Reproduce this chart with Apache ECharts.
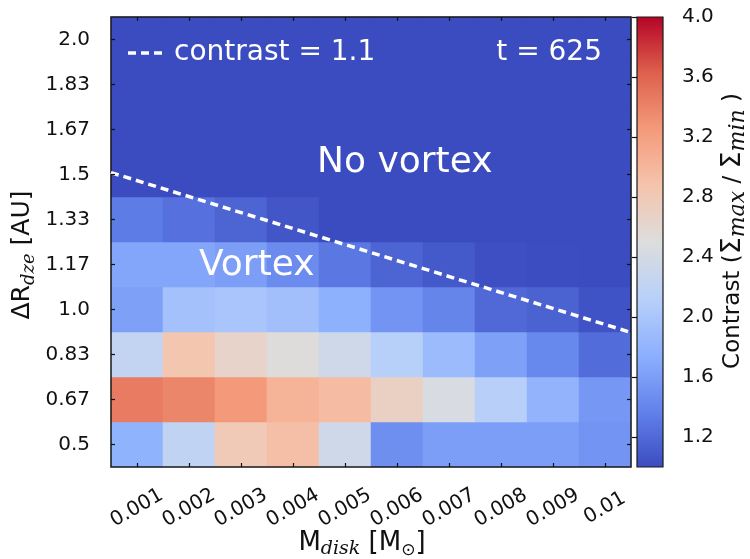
<!DOCTYPE html>
<html>
<head>
<meta charset="utf-8">
<script src="https://cdn.jsdelivr.net/npm/echarts@6/dist/echarts.min.js"></script>
<style>
html,body{margin:0;padding:0;background:#fff;}
#chart{width:750px;height:559px;}
</style>
</head>
<body>
<div id="chart"></div>
<script>
// Disk mass categories (x) and dead-zone-edge width categories (y)
var massLabels = ['0.001','0.002','0.003','0.004','0.005','0.006','0.007','0.008','0.009','0.01'];
var widthLabels = ['0.5','0.67','0.83','1.0','1.17','1.33','1.5','1.67','1.83','2.0'];

// Contrast values, one array per ΔR row (bottom to top), one value per M_disk column
var row_0_5  = [1.78, 2.22, 2.80, 2.92, 2.35, 1.48, 1.60, 1.60, 1.60, 1.52];
var row_0_67 = [3.45, 3.38, 3.25, 3.03, 2.95, 2.70, 2.45, 2.13, 1.80, 1.55];
var row_0_83 = [2.23, 2.85, 2.65, 2.52, 2.35, 2.12, 1.88, 1.62, 1.42, 1.22];
var row_1_0  = [1.62, 1.95, 2.00, 1.93, 1.76, 1.52, 1.40, 1.20, 1.15, 1.05];
var row_1_17 = [1.67, 1.67, 1.60, 1.45, 1.30, 1.17, 1.09, 1.02, 1.01, 1.00];
var row_1_33 = [1.33, 1.26, 1.17, 1.07, 1.00, 1.00, 1.00, 1.00, 1.00, 1.00];
var row_1_5  = [1.00, 1.00, 1.00, 1.00, 1.00, 1.00, 1.00, 1.00, 1.00, 1.00];
var row_1_67 = [1.00, 1.00, 1.00, 1.00, 1.00, 1.00, 1.00, 1.00, 1.00, 1.00];
var row_1_83 = [1.00, 1.00, 1.00, 1.00, 1.00, 1.00, 1.00, 1.00, 1.00, 1.00];
var row_2_0  = [1.00, 1.00, 1.00, 1.00, 1.00, 1.00, 1.00, 1.00, 1.00, 1.00];

// contrast = 1.1 boundary (M_disk, ΔR), read at the plot edges
var contourMass  = [0.0005, 0.0105];
var contourWidth = [1.507, 0.915];

// Colour bar ticks
var cbarTicks = [1.2, 1.6, 2.0, 2.4, 2.8, 3.2, 3.6, 4.0];
var cbarMin = 1.0, cbarMax = 4.0;

var coolwarm = ['#3b4cc0','#6282ea','#8db0fe','#b8d0f9','#dddddd','#f5c4ad','#f49a7b','#de604d','#b40426'];

var rows = [row_0_5,row_0_67,row_0_83,row_1_0,row_1_17,row_1_33,row_1_5,row_1_67,row_1_83,row_2_0];
var heatData = [];
rows.forEach(function(r, yi){ r.forEach(function(v, xi){ heatData.push([xi, yi, v]); }); });
var lineData = contourMass.map(function(m, i){ return [m, contourWidth[i]]; });

var FONT = 'DejaVu Sans';
var chart = echarts.init(document.getElementById('chart'), null, {renderer:'canvas'});

var cbStops = coolwarm.map(function(c, i){ return {offset: i/(coolwarm.length-1), color: c}; });
var tickStyle = {color:'#111', width:1.2};

var option = {
  backgroundColor: '#ffffff',
  animation: false,
  grid: [
    {left:111, top:17, width:520, height:450, show:true, borderColor:'#1a1a1a', borderWidth:1.5, backgroundColor:'transparent', z:3},
    {left:637, top:17, width:26, height:450, show:true, borderColor:'#1a1a1a', borderWidth:1.2,
     backgroundColor:{type:'linear', x:0, y:1, x2:0, y2:0, colorStops: cbStops}}
  ],
  visualMap: {type:'continuous', min:cbarMin, max:cbarMax, show:false, seriesIndex:0, inRange:{color:coolwarm}},
  xAxis: [
    {type:'category', gridIndex:0, data:massLabels, position:'bottom', z:10,
     axisLine:{show:false}, splitLine:{show:false},
     axisTick:{show:true, alignWithLabel:true, inside:true, length:4, interval:0, lineStyle:tickStyle},
     axisLabel:{interval:0, rotate:30, align:'center', verticalAlign:'middle', margin:41, fontFamily:FONT, fontSize:20, color:'#111'}},
    {type:'value', gridIndex:0, min:0.0005, max:0.0105, show:false},
    {type:'category', gridIndex:0, data:massLabels, position:'top', z:10,
     axisLine:{show:false}, splitLine:{show:false}, axisLabel:{show:false},
     axisTick:{show:true, alignWithLabel:true, inside:true, length:4, interval:0, lineStyle:tickStyle}},
    {type:'value', gridIndex:1, show:false, min:0, max:1}
  ],
  yAxis: [
    {type:'category', gridIndex:0, data:widthLabels, position:'left', z:10,
     axisLine:{show:false}, splitLine:{show:false},
     axisTick:{show:true, alignWithLabel:true, inside:true, length:4, interval:0, lineStyle:tickStyle},
     axisLabel:{interval:0, margin:21, fontFamily:FONT, fontSize:20, color:'#111'}},
    {type:'value', gridIndex:0, min:0.41667, max:2.08333, show:false},
    {type:'category', gridIndex:0, data:widthLabels, position:'right', z:10,
     axisLine:{show:false}, splitLine:{show:false}, axisLabel:{show:false},
     axisTick:{show:true, alignWithLabel:true, inside:true, length:4, interval:0, lineStyle:tickStyle}},
    {type:'value', gridIndex:1, position:'right', min:cbarMin, max:cbarMax, z:10,
     axisLine:{show:false}, splitLine:{show:false},
     axisTick:{show:true, inside:true, length:5, customValues:cbarTicks, lineStyle:tickStyle},
     axisLabel:{margin:19, customValues:cbarTicks, fontFamily:FONT, fontSize:20, color:'#111',
       formatter:function(v){ return v.toFixed(1); }}}
  ],
  series: [
    {type:'heatmap', xAxisIndex:0, yAxisIndex:0, data:heatData, emphasis:{disabled:true}, progressive:0},
    {type:'line', name:'contrast = 1.1', xAxisIndex:1, yAxisIndex:1, data:lineData, symbol:'none', z:5,
     lineStyle:{color:'#ffffff', width:3.5, type:[8,5]}, silent:true}
  ],
  graphic: [
    {type:'line', z:20, shape:{x1:128, y1:53, x2:165, y2:53},
     style:{stroke:'#ffffff', lineWidth:3.5, lineDash:[8,5]}},
    {type:'text', x:174, y:53, z:20,
     style:{text:'contrast = 1.1', fill:'#ffffff', fontFamily:FONT, fontSize:28, verticalAlign:'middle', align:'left'}},
    {type:'text', x:602, y:53, z:20,
     style:{text:'t = 625', fill:'#ffffff', fontFamily:FONT, fontSize:28, verticalAlign:'middle', align:'right'}},
    {type:'text', x:317, y:163, z:20,
     style:{text:'No vortex', fill:'#ffffff', fontFamily:FONT, fontSize:36, verticalAlign:'middle', align:'left'}},
    {type:'text', x:199, y:266, z:20,
     style:{text:'Vortex', fill:'#ffffff', fontFamily:FONT, fontSize:36, verticalAlign:'middle', align:'left'}},
    {type:'text', x:362, y:543, z:20,
     style:{text:'M{s|disk} [M{s2|⊙}]', align:'center', verticalAlign:'middle', fill:'#111',
       fontFamily:FONT, fontSize:26, lineHeight:32,
       rich:{s:{fontFamily:'DejaVu Serif', fontStyle:'italic', fontSize:19, lineHeight:16, verticalAlign:'bottom', fill:'#111'},
             s2:{fontFamily:FONT, fontSize:17, lineHeight:16, verticalAlign:'bottom', fill:'#111'}}}},
    {type:'text', x:22, y:255, rotation:Math.PI/2, z:20,
     style:{text:'ΔR{s|dze} [AU]', align:'center', verticalAlign:'middle', fill:'#111',
       fontFamily:FONT, fontSize:25, lineHeight:32,
       rich:{s:{fontFamily:'DejaVu Serif', fontStyle:'italic', fontSize:18, lineHeight:16, verticalAlign:'bottom', fill:'#111'}}}},
    {type:'text', x:733, y:231, rotation:Math.PI/2, z:20,
     style:{text:'Contrast ({g|Σ}{s|max} / {g|Σ}{s|min} )', align:'center', verticalAlign:'middle', fill:'#111',
       fontFamily:FONT, fontSize:23, lineHeight:32,
       rich:{g:{fontFamily:FONT, fontSize:27, lineHeight:32, fill:'#111'},
             s:{fontFamily:'DejaVu Serif', fontStyle:'italic', fontSize:22, lineHeight:16, verticalAlign:'bottom', fill:'#111'}}}}
  ]
};
chart.setOption(option);
</script>
</body>
</html>
